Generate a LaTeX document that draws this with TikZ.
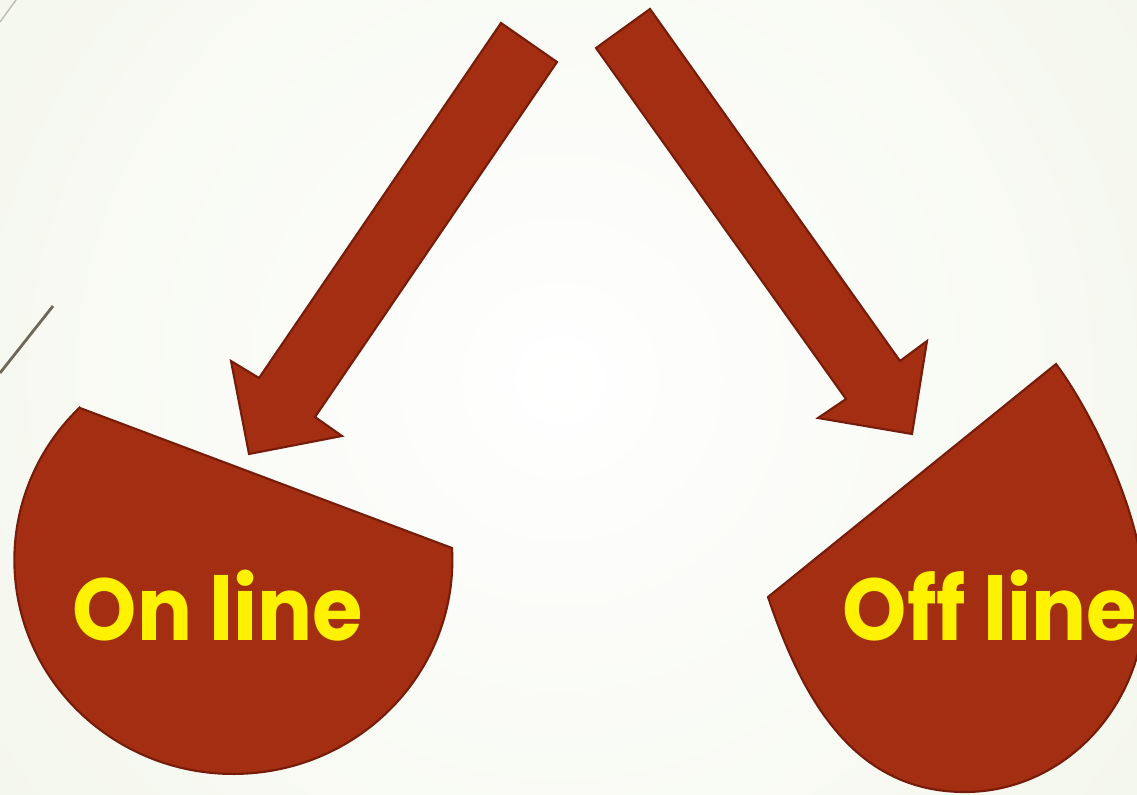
\documentclass[tikz,border=0pt]{standalone}
\usepackage{fontspec}
\setmainfont{Poppins}[FakeStretch=0.93]
\definecolor{slidebg}{RGB}{233,239,219}
\definecolor{rust}{RGB}{163,46,17}
\definecolor{rustedge}{RGB}{118,28,10}
\definecolor{linegray}{RGB}{110,104,88}
\begin{document}
\begin{tikzpicture}[x=0.01cm, y=-0.01cm,
  rustshape/.style={fill=rust, draw=rustedge, line width=0.6pt, line join=miter},
  chordtext/.style={text=yellow, font=\fontsize{25}{30}\selectfont\bfseries, inner sep=0pt, anchor=base}]

\useasboundingbox (0,0) rectangle (1137,794);

% Slide background
\begin{scope}
\clip (0,0) rectangle (1137,794);
\shade[inner color=white, outer color=slidebg] (560,380) circle[radius=1420];
\end{scope}

% Thin lines at the left edge
\draw[linegray!45, line width=0.4pt] (0,22) -- (16,0);
\draw[linegray, line width=0.8pt] (0,373) -- (53,306);

% Left arrow
\draw[rustshape] (501,23) -- (557,62) -- (315,417) -- (342,436) -- (249,454)
  -- (231,361) -- (259,378) -- cycle;

% Right arrow
\draw[rustshape] (650,9) -- (900,361) -- (927,341) -- (912,434) -- (818,418)
  -- (846,399) -- (596,48) -- cycle;

% Left chord
\draw[rustshape] (80,408) -- (452,548)
  arc[start angle=-3.2, end angle=225.4, x radius=219, y radius=214] -- cycle;

% Right chord (cut by the slide edge)
\begin{scope}
\clip (0,0) rectangle (1137,794);
\draw[rustshape] (768,597) -- (1056,364)
  .. controls (1092,412) and (1145,520) .. (1145,600)
  .. controls (1145,706) and (1064,792) .. (965,792)
  .. controls (855,792) and (803,701) .. cycle;
\end{scope}

% Texts
\node[chordtext] (online) at (218,640) {On line};
\node[chordtext] (offline) at (990,640) {Off line};
\end{tikzpicture}
\end{document}
